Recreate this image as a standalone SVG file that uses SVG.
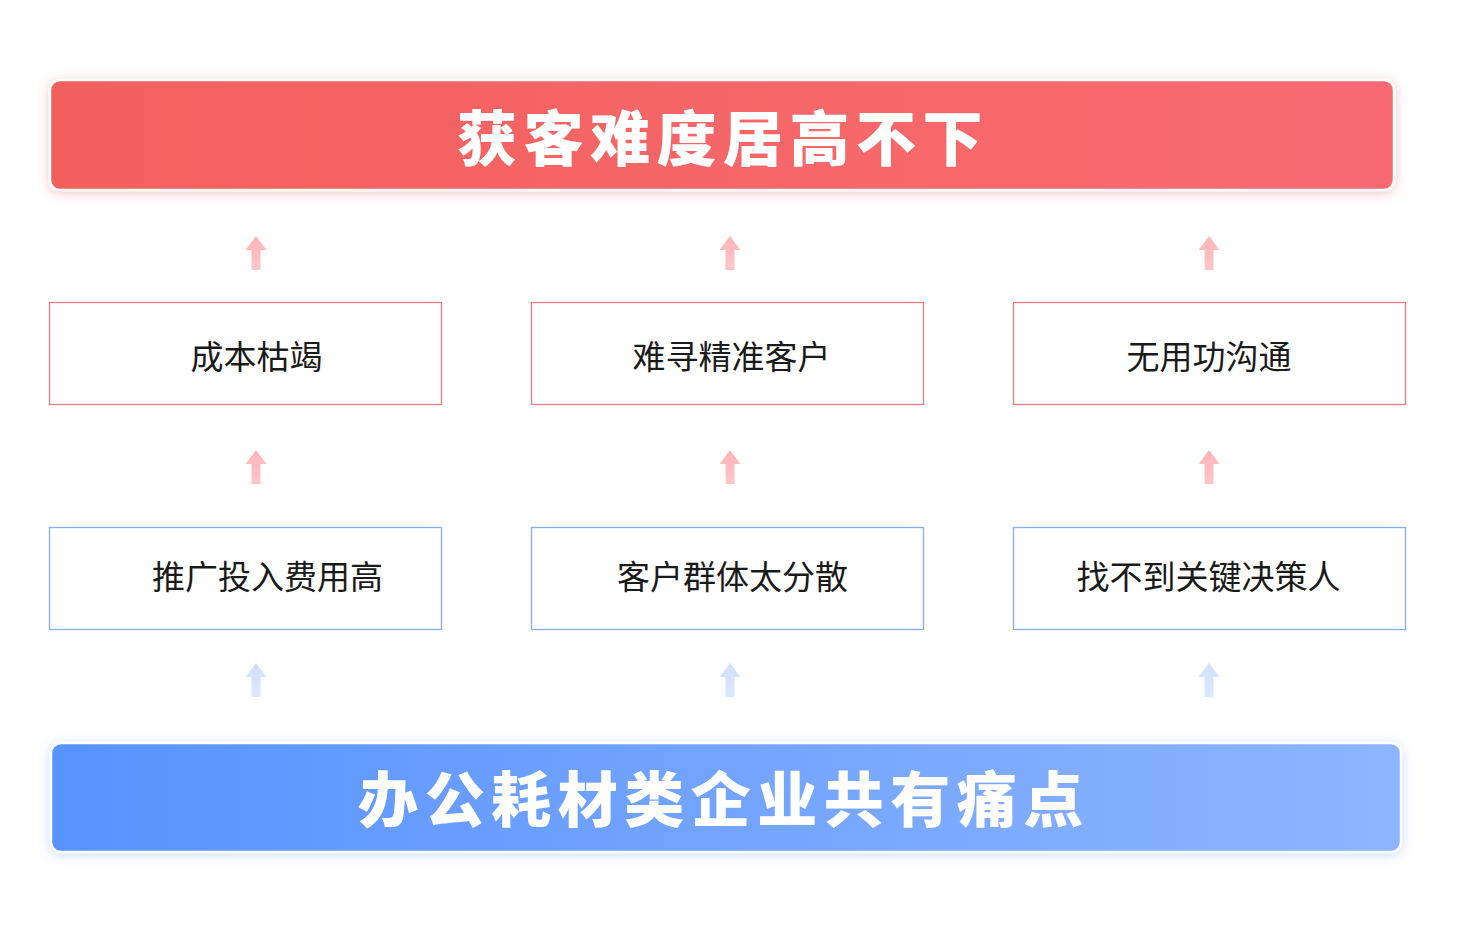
<svg xmlns="http://www.w3.org/2000/svg" width="1464" height="937" viewBox="0 0 1464 937">
<style>
.title{font-family:"Noto Sans CJK SC","Noto Sans",sans-serif;font-weight:900;font-size:60px;fill:#ffffff;letter-spacing:6.5px}
.lbl{font-family:"Noto Sans CJK SC","Noto Sans",sans-serif;font-size:33px;fill:#1a1a1a;text-anchor:middle}
.rbox{fill:#ffffff;stroke:#ea7b80;stroke-width:1.3}
.bbox{fill:#ffffff;stroke:#86adf8;stroke-width:1.3}
</style>
<defs>
<linearGradient id="gRed" x1="0" y1="0" x2="1" y2="0">
<stop offset="0" stop-color="#f2615d"/>
<stop offset="1" stop-color="#f86b72"/>
</linearGradient>
<linearGradient id="gBlue" x1="0" y1="0" x2="1" y2="0">
<stop offset="0" stop-color="#5893ff"/>
<stop offset="1" stop-color="#8db5ff"/>
</linearGradient>
<linearGradient id="aRed" x1="0" y1="0" x2="0" y2="1">
<stop offset="0" stop-color="#ffb4b8"/>
<stop offset="1" stop-color="#ffc6c8"/>
</linearGradient>
<linearGradient id="aBlue" x1="0" y1="0" x2="0" y2="1">
<stop offset="0" stop-color="#d0e0ff"/>
<stop offset="1" stop-color="#dbe8ff"/>
</linearGradient>
<filter id="shRed" x="-5%" y="-30%" width="110%" height="160%">
<feDropShadow dx="0" dy="2" stdDeviation="6" flood-color="#d85a5a" flood-opacity="0.35"/>
</filter>
<filter id="shBlue" x="-5%" y="-30%" width="110%" height="160%">
<feDropShadow dx="0" dy="2" stdDeviation="6" flood-color="#5a8ff0" flood-opacity="0.3"/>
</filter>
<path id="arrow" d="M0,0 L10.5,14 L4.5,14 L4.5,34 L-4.5,34 L-4.5,14 L-10.5,14 Z"/>
</defs>
<rect width="1464" height="937" fill="#ffffff"/>

<g id="top-banner">
<rect x="50" y="80" width="1344" height="110" rx="10" fill="url(#gRed)" stroke="#ffffff" stroke-width="2.5" filter="url(#shRed)"/>
<text class="title" x="723" y="161" text-anchor="middle">获客难度居高不下</text>
</g>

<g id="connectors">
<use href="#arrow" x="256" y="236" fill="url(#aRed)"/>
<use href="#arrow" x="730" y="236" fill="url(#aRed)"/>
<use href="#arrow" x="1209" y="236" fill="url(#aRed)"/>
<use href="#arrow" x="256" y="450" fill="url(#aRed)"/>
<use href="#arrow" x="730" y="450" fill="url(#aRed)"/>
<use href="#arrow" x="1209" y="450" fill="url(#aRed)"/>
<use href="#arrow" x="256" y="663" fill="url(#aBlue)"/>
<use href="#arrow" x="730" y="663" fill="url(#aBlue)"/>
<use href="#arrow" x="1209" y="663" fill="url(#aBlue)"/>
</g>

<g id="node-cost">
<rect class="rbox" x="49.5" y="302.5" width="392" height="102"/>
<text class="lbl" x="256.5" y="369">成本枯竭</text>
</g>
<g id="node-target">
<rect class="rbox" x="531.5" y="302.5" width="392" height="102"/>
<text class="lbl" x="731.5" y="369">难寻精准客户</text>
</g>
<g id="node-comm">
<rect class="rbox" x="1013.5" y="302.5" width="392" height="102"/>
<text class="lbl" x="1209" y="369">无用功沟通</text>
</g>

<g id="node-promo">
<rect class="bbox" x="49.5" y="527.5" width="392" height="102"/>
<text class="lbl" x="267.5" y="589">推广投入费用高</text>
</g>
<g id="node-scatter">
<rect class="bbox" x="531.5" y="527.5" width="392" height="102"/>
<text class="lbl" x="732.5" y="589">客户群体太分散</text>
</g>
<g id="node-decision">
<rect class="bbox" x="1013.5" y="527.5" width="392" height="102"/>
<text class="lbl" x="1208.5" y="589">找不到关键决策人</text>
</g>

<g id="bottom-banner">
<rect x="51" y="743" width="1350" height="109" rx="10" fill="url(#gBlue)" stroke="#ffffff" stroke-width="2.5" filter="url(#shBlue)"/>
<text class="title" x="724" y="822" text-anchor="middle">办公耗材类企业共有痛点</text>
</g>
</svg>
